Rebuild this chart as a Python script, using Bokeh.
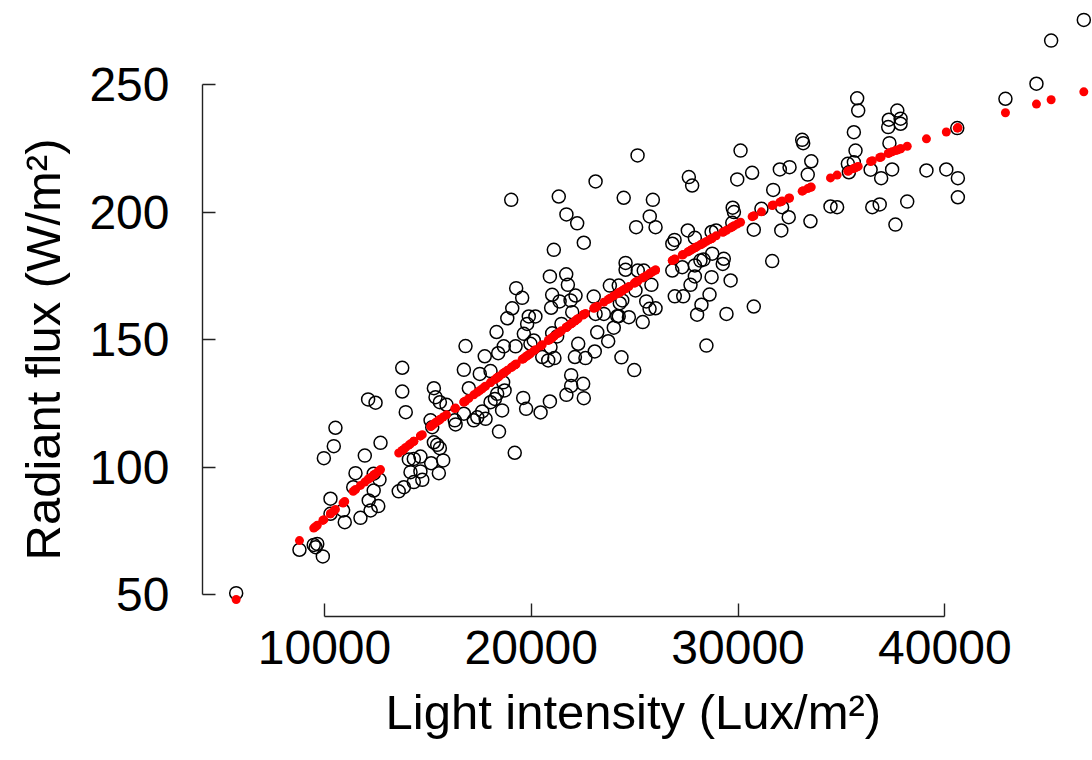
from bokeh.plotting import figure
from bokeh.models import Range1d, FixedTicker, Title, ColumnDataSource, NumeralTickFormatter
from bokeh.embed import file_html
from bokeh.resources import INLINE

# Light intensity (Lux/m²), observed radiant flux (W/m²) and fitted values (red)
light = [5730, 8790, 9480, 9650, 9570, 9920, 10290, 10290, 10900, 10980, 9970, 10450, 10530,
         11500, 11390, 11950, 12140, 12230, 11740, 12600, 12380, 12660, 12710, 12380, 12110, 12470,
         13590, 13760, 13760, 13930, 13840, 14080, 14320, 14640, 14160, 14640, 14320, 14730,
         15160, 15530, 15740, 15290, 15450, 15580, 15130, 15210, 15290, 15370, 15580, 15900,
         16300, 16340, 16740, 17220, 17390, 17790, 16820, 16740, 16980, 17750, 17510, 18030,
         18240, 18030, 18350, 18320, 18400, 18440, 17630, 18640, 18710, 18590,
         19270, 19560, 19080, 18840, 19880, 20200, 19800, 19640, 19240, 18670, 20120, 19960,
         19200, 19610, 19750, 20450, 20900, 21700, 21930, 21930, 22510, 22540, 20530, 20820,
         21120, 20930, 21460, 21250, 21010, 20960, 21370, 21010, 21770, 22140, 21900, 21980,
         22270, 22110, 22620, 20900, 21690, 19030, 21330, 21700, 22220, 21090, 22540,
         23070, 23020, 23190, 23110, 23720, 23510, 23110, 23990, 24160, 24360, 24980, 23800,
         24280, 24400, 24720, 24230, 25040, 25390, 25560, 25720, 26010, 25810, 25140, 24470,
         25880, 25730, 26010, 25070, 24560, 24560, 25150, 25440, 24230,
         26940, 27350, 27700, 28230, 28020, 28620, 28470, 29440, 29640, 30120, 27620, 27780,
         29960, 29740, 29800, 29720, 27570, 28720, 28940, 26930, 26820, 27910, 26820, 27300,
         27910, 28180, 28330, 28750, 29310, 29260, 28720, 27910,
         30760, 30680, 30760, 31130, 31700, 31650, 32020, 32090, 32130, 32450, 32490, 33100,
         33150, 33370, 33500, 33540, 34470, 34790, 35310, 35360, 35600, 35600, 35680, 35760,
         35810, 36410, 36490, 36850, 36920, 37260, 37290, 37320, 37450, 37610, 37700, 37860,
         37860, 38180, 39110, 40070, 40600, 40630, 40630, 42930, 44430, 45140, 46720]

flux = [50.7, 67.7, 69.6, 70.0, 68.7, 65.1, 87.7, 81.8, 83.1, 78.5, 103.6, 108.3, 115.5,
        97.7, 92.2, 104.6, 87.0, 83.1, 80.2, 84.8, 90.9, 95.2, 109.6, 97.5, 126.6, 125.3,
        90.6, 139.0, 129.7, 121.6, 92.2, 103.1, 103.3, 104.2, 98.1, 98.4, 94.2, 95.1,
        101.6, 97.7, 102.7, 109.8, 108.8, 107.5, 118.4, 115.7, 131.0, 127.5, 125.5, 124.5,
        118.4, 116.8, 121.0, 118.4, 119.6, 119.0, 147.5, 138.2, 131.0, 143.5, 136.6, 137.7,
        126.8, 125.5, 128.8, 153.0, 144.7, 114.0, 121.9, 133.3, 130.1, 122.3,
        170.2, 166.4, 162.3, 158.4, 159.1, 159.1, 156.2, 152.3, 147.4, 147.4, 149.7, 148.4,
        105.7, 127.2, 122.9, 121.5, 125.8, 128.4, 131.9, 136.1, 132.7, 127.1, 143.2, 141.9,
        142.8, 147.1, 156.2, 151.3, 152.5, 162.5, 165.0, 167.6, 171.5, 167.3, 165.4, 160.8,
        148.4, 143.2, 142.8, 174.8, 175.6, 204.8, 206.1, 199.1, 195.6, 185.2, 188.0,
        145.4, 166.9, 152.9, 212.0, 149.4, 160.1, 160.1, 154.7, 159.2, 143.1, 138.1, 171.2,
        164.3, 165.4, 158.8, 159.2, 169.3, 156.9, 165.0, 162.1, 162.3, 171.5, 222.2, 205.6,
        204.8, 198.3, 194.1, 194.1, 180.1, 177.4, 177.1, 177.1, 171.2,
        167.0, 167.0, 171.5, 163.7, 159.8, 167.7, 147.7, 160.1, 173.2, 224.1, 213.7, 210.4,
        212.8, 201.7, 200.0, 195.8, 192.8, 192.2, 192.8, 189.1, 187.6, 189.9, 177.1, 178.4,
        179.1, 181.0, 181.4, 183.7, 181.7, 179.7, 174.5, 174.8,
        163.0, 215.4, 193.1, 201.3, 208.7, 180.8, 216.7, 192.8, 201.9, 198.0, 217.6, 228.3,
        227.0, 214.7, 196.4, 219.9, 202.2, 201.9, 218.9, 215.6, 231.3, 219.5, 224.1, 244.6,
        239.8, 216.6, 201.9, 203.0, 213.3, 233.3, 236.2, 227.0, 216.7, 195.1, 239.8, 236.6,
        234.6, 204.1, 216.3, 216.7, 232.9, 213.3, 205.8, 244.4, 250.3, 267.2, 275.3]

fitted = [48.2, 71.3, 76.2, 77.3, 76.7, 79.2, 81.8, 81.8, 86.0, 86.6, 79.5, 82.9, 83.5,
          91.3, 90.6, 94.2, 95.5, 96.0, 92.9, 98.4, 97.0, 98.8, 99.1, 97.0, 95.3, 97.5,
          105.6, 106.6, 106.6, 107.8, 107.1, 108.7, 110.2, 112.3, 109.2, 112.3, 110.2, 112.8,
          116.2, 118.4, 119.7, 117.0, 118.0, 118.7, 116.0, 116.5, 117.0, 117.5, 118.7, 120.6,
          123.0, 123.2, 125.6, 128.4, 129.4, 131.8, 126.0, 125.6, 127.0, 131.6, 130.1, 133.2,
          134.4, 133.2, 135.1, 134.9, 135.4, 135.6, 130.8, 136.8, 137.2, 136.5,
          140.5, 142.3, 139.4, 138.0, 144.1, 146.1, 143.7, 142.7, 140.3, 137.0, 145.6, 144.6,
          140.1, 142.5, 143.4, 147.5, 150.1, 154.9, 156.3, 156.3, 159.7, 159.9, 148.0, 149.7,
          151.5, 150.3, 153.5, 152.3, 150.8, 150.5, 152.9, 150.8, 155.3, 157.5, 156.1, 156.5,
          158.3, 157.3, 160.3, 150.1, 154.8, 139.1, 152.7, 154.9, 158.0, 151.3, 159.9,
          162.5, 162.3, 163.1, 162.7, 165.8, 164.7, 162.7, 167.2, 168.0, 169.0, 172.1, 166.2,
          168.6, 169.2, 170.8, 168.4, 172.5, 174.2, 175.1, 175.9, 177.3, 176.4, 172.9, 169.6,
          176.7, 175.9, 177.3, 172.6, 170.0, 170.0, 173.0, 174.5, 168.4,
          181.6, 183.4, 185.0, 187.4, 186.5, 189.2, 188.5, 192.9, 193.8, 196.0, 184.6, 185.4,
          195.3, 194.3, 194.6, 194.2, 184.4, 189.6, 190.7, 181.5, 181.0, 186.0, 181.0, 183.2,
          186.0, 187.2, 187.9, 189.8, 192.3, 192.1, 189.6, 186.0,
          198.5, 198.2, 198.5, 200.1, 202.8, 202.6, 203.9, 204.1, 204.3, 205.4, 205.5, 208.2,
          208.4, 209.2, 209.7, 209.8, 213.4, 214.5, 216.0, 216.2, 217.1, 217.1, 217.4, 217.7,
          217.9, 219.8, 220.1, 221.4, 221.6, 223.0, 223.1, 223.2, 223.6, 224.1, 224.3, 224.8,
          224.8, 225.8, 228.7, 231.4, 232.9, 233.0, 233.0, 238.9, 242.3, 244.0, 247.1]

x_ticks = [10000, 20000, 30000, 40000]
y_ticks = [50, 100, 150, 200, 250]
x_title = "Light intensity (Lux/m²)"
y_title = "Radiant flux (W/m²)"

FONT = "Liberation Sans"

src = ColumnDataSource(dict(light=light, flux=flux, fitted=fitted))

p = figure(width=1092, height=760, output_backend="svg", toolbar_location=None,
           x_range=Range1d(4101, 47140), y_range=Range1d(41.55, 282.9),
           min_border_left=202, min_border_right=0, min_border_top=0, min_border_bottom=144,
           title=None)
p.outline_line_color = None
p.xgrid.visible = False
p.ygrid.visible = False
p.background_fill_color = "white"
p.border_fill_color = "white"

for ax, ticks, bounds in ((p.xaxis[0], x_ticks, (10000, 40000)), (p.yaxis[0], y_ticks, (50, 250))):
    ax.ticker = FixedTicker(ticks=ticks, minor_ticks=[])
    ax.bounds = bounds
    ax.formatter = NumeralTickFormatter(format="0")
    ax.axis_line_color = "#222222"
    ax.axis_line_width = 1.4
    ax.major_tick_line_color = "#222222"
    ax.major_tick_line_width = 1.4
    ax.major_tick_in = 13
    ax.major_tick_out = 0
    ax.minor_tick_line_color = None
    ax.major_label_text_font = FONT
    ax.major_label_text_font_size = "48px"
    ax.major_label_text_color = "black"

p.xaxis[0].major_label_standoff = 14
p.yaxis[0].major_label_standoff = 33

p.scatter("light", "flux", source=src, size=13, marker="circle",
          fill_color=None, line_color="black", line_width=1.5)
p.scatter("light", "fitted", source=src, size=9, marker="circle",
          fill_color="red", line_color=None)

p.add_layout(Title(text=x_title, align="left", vertical_align="bottom", offset=183, standoff=33,
                   text_font=FONT, text_font_size="49px", text_font_style="normal",
                   text_color="black"), "below")
p.add_layout(Title(text=y_title, align="left", vertical_align="top", offset=56, standoff=29,
                   text_font=FONT, text_font_size="49px", text_font_style="normal",
                   text_color="black"), "left")

open("out.html", "w").write(file_html(p, INLINE))
